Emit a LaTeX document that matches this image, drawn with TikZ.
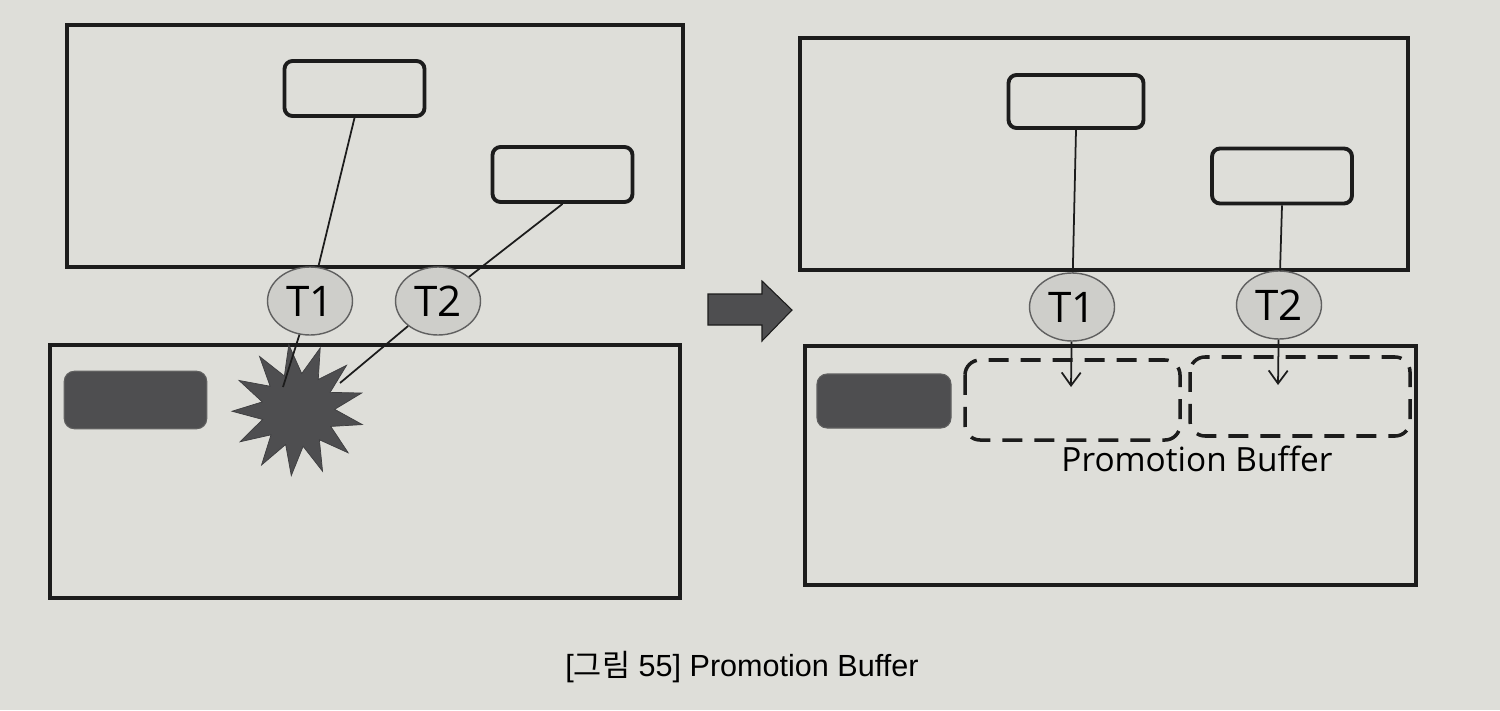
\documentclass[tikz,border=0pt]{standalone}
\usepackage{fontspec}
\setmainfont{Liberation Sans}
\newfontfamily\threadfont{Open Sans}
\newfontfamily\cjkfont{Noto Sans CJK KR}
\usetikzlibrary{shapes.geometric,arrows.meta}
\definecolor{paper}{RGB}{222,222,217}
\definecolor{ink}{RGB}{28,28,28}
\definecolor{tenured}{RGB}{78,78,80}
\definecolor{bubble}{RGB}{206,206,202}
\begin{document}
\begin{tikzpicture}[x=0.02cm, y=-0.02cm,
    frame/.style={draw=ink, line width=2.2pt},
    obj/.style={draw=ink, line width=2.2pt, rounded corners=0.16cm, minimum width=2.8cm, minimum height=1.1cm},
    old/.style={fill=tenured, draw=ink!70, line width=0.6pt, rounded corners=0.2cm, minimum width=2.85cm, minimum height=1.15cm},
    thread/.style={ellipse, draw=gray!75!black, line width=0.8pt, fill=bubble, inner sep=0pt, minimum width=1.7cm, minimum height=1.36cm, font=\threadfont\fontsize{24}{24}\selectfont},
    buffer/.style={draw=ink, line width=2pt, dash pattern=on 0.4cm off 0.24cm, rounded corners=0.3cm},
    link/.style={draw=ink, line width=1pt}]

    \fill[paper] (0,0) rectangle (1500,710);
    \useasboundingbox (0,0) rectangle (1500,710);

    \draw[frame] (67,25) rectangle (683,267);
    \draw[frame] (50,345) rectangle (680,598);
    \draw[frame] (800,38) rectangle (1408,270);
    \draw[frame] (805,346) rectangle (1416,585);

    \node[obj] (objA) at (354.5,88.5) {};
    \node[obj] (objB) at (562.5,174.5) {};
    \node[thread] (t1L) at (310,301) {T1};
    \node[thread] (t2L) at (438,301) {T2};
    \node[old] (oldL) at (135.5,400) {};
    \node[star, star points=13, star point ratio=1.8, fill=tenured, draw=tenured!80!black, minimum size=2.64cm, inner sep=0pt, rotate=8] (clash) at (298,410) {};
    \coordinate (hitA) at (283,387);
    \coordinate (hitB) at (340,383);

    \draw[link] (objA.south) -- (t1L);
    \draw[link] (objB.south) -- (t2L);
    \draw[link] (t1L) -- (hitA);
    \draw[link] (t2L) -- (hitB);

    \filldraw[fill=tenured, draw=ink, line width=0.6pt] (708,294) -- (762,294) -- (762,281) -- (792,310) -- (762,341) -- (762,325) -- (708,325) -- cycle;

    \node[obj, minimum width=2.7cm, minimum height=1.06cm] (objC) at (1076,101.5) {};
    \node[obj] (objD) at (1282,176) {};
    \node[thread] (t1R) at (1072,307) {T1};
    \node[thread] (t2R) at (1279,305) {T2};
    \node[old, minimum width=2.68cm, minimum height=1.08cm] (oldR) at (884,401) {};
    \draw[buffer] (965,360) rectangle (1180,440);
    \draw[buffer] (1190,357) rectangle (1410,436);
    \coordinate (dropA) at (1071,387);
    \coordinate (dropB) at (1278,385);

    \draw[link] (objC.south) -- (t1R);
    \draw[link] (objD.south) -- (t2R);
    \draw[link, -{Straight Barb[length=0.26cm, width=0.38cm]}] (t1R) -- (dropA);
    \draw[link, -{Straight Barb[length=0.26cm, width=0.38cm]}] (t2R) -- (dropB);

    \node[font=\threadfont\fontsize{19}{22}\selectfont] (buflabel) at (1197,459) {Promotion Buffer};
    \node[font=\fontsize{17.4}{20}\selectfont] (caption) at (742,667) {[{\cjkfont 그림} 55] Promotion Buffer};
\end{tikzpicture}
\end{document}
